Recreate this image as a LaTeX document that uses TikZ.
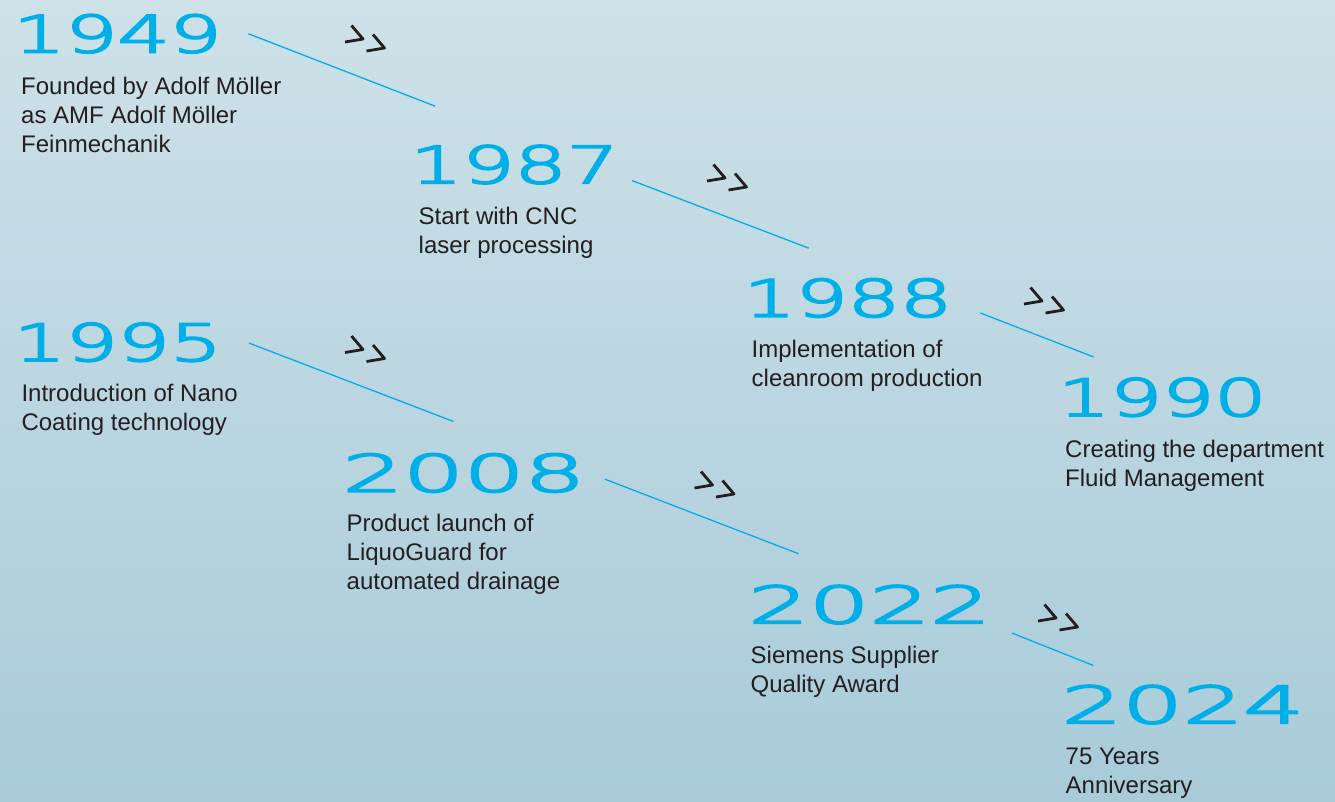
\documentclass[tikz,border=0pt]{standalone}
\usepackage{fontspec}
\setmainfont{Liberation Sans}
\newfontfamily\yearfont{DejaVuSans-ExtraLight.ttf}[FakeBold=3.5]
\usepackage{tikz}
\usetikzlibrary{calc}
\usetikzlibrary{positioning}

\definecolor{yearblue}{RGB}{0,174,232}
\definecolor{textdark}{RGB}{35,31,32}
\definecolor{bgtop}{RGB}{206,225,232}
\definecolor{bgmid}{RGB}{193,224,234}
\definecolor{bgbottom}{RGB}{168,203,217}

\newcommand{\yrnum}[2][1.59]{\scalebox{#1}[1]{#2}}

\begin{document}
\begin{tikzpicture}[
    x=1pt, y=1pt,
    year/.style={
        anchor=base west,
        inner sep=0pt,
        text=yearblue,
        font=\yearfont\fontsize{51.5}{52}\selectfont
    },
    desc/.style={
        anchor=base west,
        inner sep=0pt,
        align=left,
        text=textdark,
        font=\fontsize{24}{28.6}\selectfont
    },
    link/.style={yearblue, line width=1.3pt},
    chevrons/.pic={
        \draw[textdark, line width=2.8pt, line join=round]
            (-13.5,13.5) -- (-2,0) -- (-20,-3)
            (8,4.5) -- (19.5,-9) -- (1.5,-12);
    }
]

% Background
\useasboundingbox (0,0) rectangle (1335,-801);
\shade[top color=bgtop, middle color=bgmid, bottom color=bgbottom]
    (0,0) rectangle (1335,-801);

% Years
\node[year] (y1949) at (13.2,-52.5) {\yrnum{1949}};
\node[year] (y1987) at (410.2,-183.3) {\yrnum{1987}};
\node[year] (y1988) at (743.5,-316.7) {\yrnum{1988}};
\node[year] (y1990) at (1057.9,-416) {\yrnum{1990}};
\node[year] (y1995) at (13.5,-361) {\yrnum{1995}};
\node[year] (y2008) at (342.5,-491.7) {\yrnum[1.85]{2008}};
\node[year] (y2022) at (748.2,-623.3) {\yrnum[1.85]{2022}};
\node[year] (y2024) at (1061.5,-723.3) {\yrnum[1.85]{2024}};

% Descriptions (anchored at the last line)
\node[desc] (d1949) at (21,-152) {Founded by Adolf Möller\\as AMF Adolf Möller\\Feinmechanik};
\node[desc] (d1987) at (418.5,-253.5) {Start with CNC\\laser processing};
\node[desc] (d1988) at (751.5,-386.5) {Implementation of\\cleanroom production};
\node[desc] (d1990) at (1065,-486) {Creating the department\\Fluid Management};
\node[desc] (d1995) at (21.3,-430) {Introduction of Nano\\Coating technology};
\node[desc] (d2008) at (346.5,-589) {Product launch of\\LiquoGuard for\\automated drainage};
\node[desc] (d2022) at (750.5,-692) {Siemens Supplier\\Quality Award};
\node[desc] (d2024) at (1065.5,-793) {75 Years\\Anniversary};

% Connecting lines
\draw[link] ([shift={(26.4,0)}]y1949.east) -- ++(186.7,-72.4);
\draw[link] ([shift={(13,-16)}]y1987.east) -- ++(176.7,-67.6);
\draw[link] ([shift={(28,-15)}]y1988.east) -- ++(113.3,-44);
\draw[link] ([shift={(26.7,-0.8)}]y1995.east) -- ++(204.4,-78.4);
\draw[link] ([shift={(19.3,-6.1)}]y2008.east) -- ++(194,-74.7);
\draw[link] ([shift={(21,-28.5)}]y2022.east) -- ++(81.3,-32.4);

% Chevrons
\pic at (365,-39) {chevrons};
\pic at (727,-178) {chevrons};
\pic at (1044,-301) {chevrons};
\pic at (365,-349.5) {chevrons};
\pic at (714.5,-485) {chevrons};
\pic at (1058,-618) {chevrons};

\end{tikzpicture}
\end{document}
